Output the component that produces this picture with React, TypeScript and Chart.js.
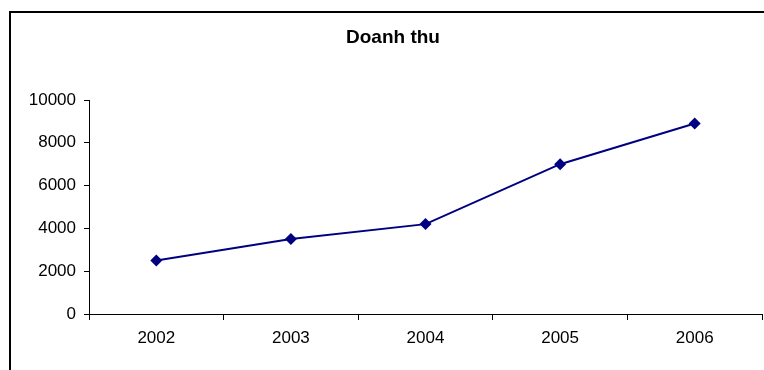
import React, { useEffect, useRef } from "react";
import { Chart, registerables } from "chart.js";

Chart.register(...registerables);

const years = ["2002", "2003", "2004", "2005", "2006"];
const revenue = [2500, 3500, 4200, 7000, 8900];
const yTicks = [0, 2000, 4000, 6000, 8000, 10000];
const title = "Doanh thu";

const FONT = "'Liberation Sans', Arial, sans-serif";
const CANVAS_W = 768;
const CANVAS_H = 370;

// Draws the white background, the clipped outer frame and the bold title.
const framePlugin = {
  id: "frameAndTitle",
  beforeDraw(chart: Chart) {
    const ctx = chart.ctx;
    ctx.save();
    ctx.fillStyle = "#fff";
    ctx.fillRect(0, 0, chart.width, chart.height);
    ctx.strokeStyle = "#000";
    ctx.lineWidth = 2;
    ctx.beginPath();
    ctx.moveTo(10, chart.height);
    ctx.lineTo(10, 12);
    ctx.lineTo(chart.width, 12);
    ctx.stroke();
    ctx.fillStyle = "#000";
    ctx.font = `bold 19px ${FONT}`;
    ctx.textAlign = "center";
    ctx.textBaseline = "middle";
    ctx.fillText(title, 393, 38);
    ctx.restore();
  },
};

export default function App() {
  const ref = useRef<HTMLCanvasElement>(null);

  useEffect(() => {
    if (!ref.current) return;
    const chart = new Chart(ref.current, {
      type: "line",
      data: {
        labels: years,
        datasets: [
          {
            label: title,
            data: revenue,
            borderColor: "#000080",
            backgroundColor: "#000080",
            borderWidth: 2,
            pointStyle: "rectRot",
            pointRadius: 6,
            pointBorderWidth: 0,
            tension: 0,
          },
        ],
      },
      options: {
        animation: false,
        responsive: false,
        layout: { padding: { top: 100, right: 2, left: 0, bottom: 0 } },
        plugins: {
          legend: { display: false },
          title: { display: false },
          tooltip: { enabled: false },
        },
        scales: {
          x: {
            type: "category",
            offset: true,
            grid: {
              offset: true,
              drawOnChartArea: false,
              drawTicks: true,
              tickLength: 6,
              color: "#000",
            },
            border: { display: true, color: "#000", width: 1 },
            ticks: {
              color: "#000",
              font: { family: FONT, size: 17 },
              padding: 8,
              maxRotation: 0,
            },
            afterFit(scale: any) {
              scale.height = 56;
            },
          },
          y: {
            min: 0,
            max: 10000,
            afterBuildTicks(scale: any) {
              scale.ticks = yTicks.map((v) => ({ value: v }));
            },
            grid: {
              drawOnChartArea: false,
              drawTicks: true,
              tickLength: 5,
              color: "#000",
            },
            border: { display: true, color: "#000", width: 1 },
            ticks: {
              color: "#000",
              font: { family: FONT, size: 17 },
              padding: 8,
              callback: (value: any) => String(value),
            },
            afterFit(scale: any) {
              scale.width = 89;
            },
          },
        },
      },
      plugins: [framePlugin],
    });
    return () => chart.destroy();
  }, []);

  return (
    <div
      style={{
        position: "fixed",
        left: 0,
        top: 0,
        width: 764,
        height: CANVAS_H,
        overflow: "hidden",
      }}
    >
      <canvas
        ref={ref}
        width={CANVAS_W}
        height={CANVAS_H}
        style={{ display: "block", width: CANVAS_W, height: CANVAS_H }}
      />
    </div>
  );
}
